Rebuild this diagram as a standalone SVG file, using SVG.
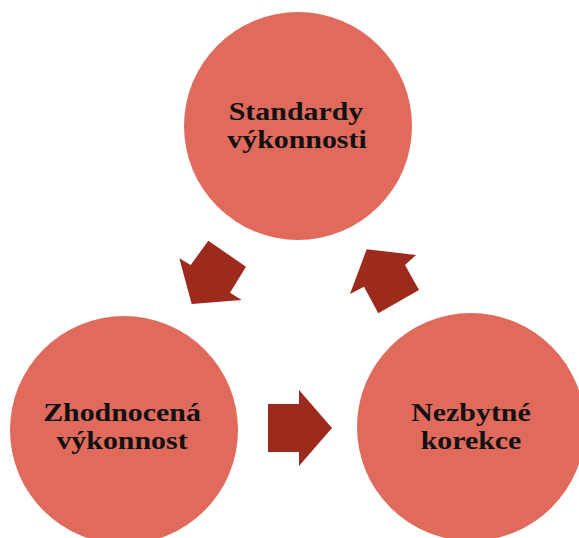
<svg xmlns="http://www.w3.org/2000/svg" width="579" height="538" viewBox="0 0 579 538">
<style>
.c{fill:#E06B5D}
.a{fill:#9C2B1E}
.t{font-family:"Liberation Serif","Times New Roman",serif;font-weight:bold;font-size:26px;fill:#111;text-anchor:middle}
</style>
<rect width="579" height="538" fill="#fff"/>
<g id="node-standardy">
<circle class="c" cx="298" cy="126" r="114"/>
<text class="t" transform="translate(296,120) scale(1.15,1)">Standardy</text>
<text class="t" transform="translate(297,148) scale(1.15,1)">výkonnosti</text>
</g>
<g id="node-zhodnocena">
<circle class="c" cx="124" cy="430" r="114"/>
<text class="t" transform="translate(122,421) scale(1.15,1)">Zhodnocená</text>
<text class="t" transform="translate(122,449) scale(1.15,1)">výkonnost</text>
</g>
<g id="node-nezbytne">
<circle class="c" cx="471" cy="427" r="114"/>
<text class="t" transform="translate(471,421) scale(1.15,1)">Nezbytné</text>
<text class="t" transform="translate(471,449) scale(1.15,1)">korekce</text>
</g>
<g id="connectors">
<polygon class="a" points="179.3,258.3 190.7,265 208.3,240.7 246,266.7 230,292.7 241.7,300 191.7,304"/>
<polygon class="a" points="268,404 299,404 299,390 332,428 299,466 299,452 268,452"/>
<polygon class="a" points="366.7,249.3 416,255 405,265 419,290 378.3,313.3 364,286.7 350,294"/>
</g>
</svg>
